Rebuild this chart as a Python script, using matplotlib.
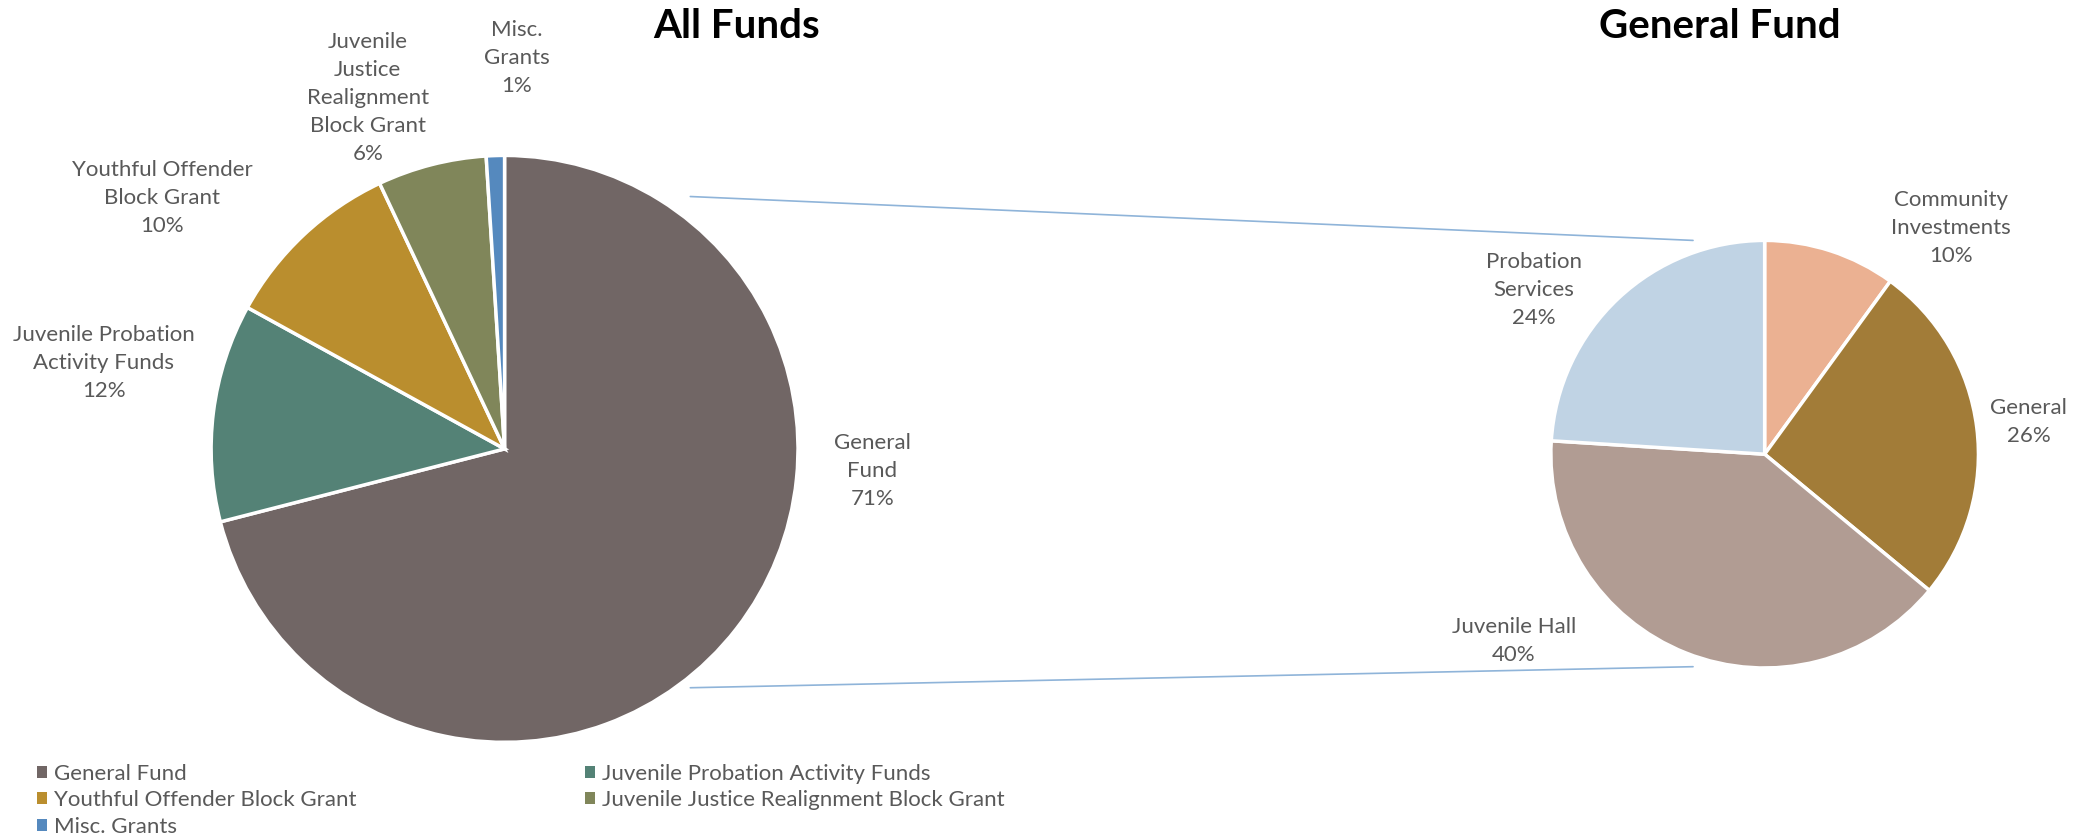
import matplotlib
matplotlib.use("Agg")
import matplotlib.pyplot as plt
from matplotlib.patches import ConnectionPatch, Patch

# ---------------- data ----------------
all_funds_names = ["General Fund", "Juvenile Probation Activity Funds",
                   "Youthful Offender Block Grant",
                   "Juvenile Justice Realignment Block Grant", "Misc. Grants"]
all_funds_pct = [71, 12, 10, 6, 1]
all_funds_labels = ["General\nFund", "Juvenile Probation\nActivity Funds",
                    "Youthful Offender\nBlock Grant",
                    "Juvenile\nJustice\nRealignment\nBlock Grant", "Misc.\nGrants"]

gf_names = ["Community Investments", "General", "Juvenile Hall", "Probation Services"]
gf_pct = [10, 26, 40, 24]
gf_labels = ["Community\nInvestments", "General", "Juvenile Hall", "Probation\nServices"]

# ---------------- style ----------------
FONT = ["Lato", "DejaVu Sans"]
plt.rcParams["font.family"] = FONT
TXT = "#595959"
left_colors = ["#716665", "#548276", "#BA8E2E", "#80865A", "#5589BE"]
right_colors = ["#EBB192", "#A27C38", "#B19C93", "#C0D3E4"]

W, H = 2082, 838
PW, PH = 1568.0, 631.0  # reference coordinate frame used for layout
fig = plt.figure(figsize=(W / 100, H / 100), dpi=100)

def pie_axes(cx, cy, r):
    rw = r / PW
    rh = r / PH
    ax = fig.add_axes([cx / PW - rw, 1 - cy / PH - rh, 2 * rw, 2 * rh])
    return ax

def finish(ax):
    ax.set_xlim(-1, 1)
    ax.set_ylim(-1, 1)
    ax.set_aspect("equal")
    ax.axis("off")

axL = pie_axes(380, 338, 221)
axL.pie(all_funds_pct, colors=left_colors, startangle=90, counterclock=False,
        radius=1, wedgeprops=dict(edgecolor="white", linewidth=2.5))
finish(axL)

axR = pie_axes(1329, 342, 161)
axR.pie(gf_pct, colors=right_colors, startangle=90, counterclock=False,
        radius=1, wedgeprops=dict(edgecolor="white", linewidth=2.5))
finish(axR)

# label positions (layout-frame centers)
left_pos = [(657, 355), (78, 273), (122, 149), (277, 74), (389, 44)]
right_pos = [(1469, 172), (1528, 318), (1140, 483), (1155, 218)]

for lab, v, (x, y) in zip(all_funds_labels, all_funds_pct, left_pos):
    fig.text(x / PW, 1 - y / PH, f"{lab}\n{v}%", ha="center", va="center",
             fontsize=16, color=TXT, linespacing=1.5)
for lab, v, (x, y) in zip(gf_labels, gf_pct, right_pos):
    fig.text(x / PW, 1 - y / PH, f"{lab}\n{v}%", ha="center", va="center",
             fontsize=16, color=TXT, linespacing=1.5)

# titles
fig.text(555 / PW, 1 - 20 / PH, "All Funds", ha="center", va="center",
         fontsize=29, fontweight="bold", color="black")
fig.text(1295 / PW, 1 - 20 / PH, "General Fund", ha="center", va="center",
         fontsize=29, fontweight="bold", color="black")

# connector lines
for (lx, ly), (rx, ry) in [((0.633, 0.86), (-0.335, 1.0)), ((0.633, -0.814), (-0.335, -0.994))]:
    con = ConnectionPatch(xyA=(lx, ly), coordsA=axL.transData,
                          xyB=(rx, ry), coordsB=axR.transData,
                          color="#8FB4D9", linewidth=1.2)
    fig.add_artist(con)

# legend (row-major ordering -> column-major handles)
order = [0, 2, 4, 1, 3]
handles = [Patch(facecolor=left_colors[i], edgecolor="none") for i in order]
labels = [all_funds_names[i] for i in order]
leg = fig.legend(handles, labels, ncol=2, loc="upper left",
                 bbox_to_anchor=(28 / PW, 1 - 575 / PH), frameon=False,
                 fontsize=16, handlelength=0.45, handleheight=0.45,
                 handletextpad=0.3, labelspacing=0.3, columnspacing=10.3,
                 borderpad=0, borderaxespad=0)
for t in leg.get_texts():
    t.set_color(TXT)

fig.savefig("out.png", dpi=100, facecolor="white")
